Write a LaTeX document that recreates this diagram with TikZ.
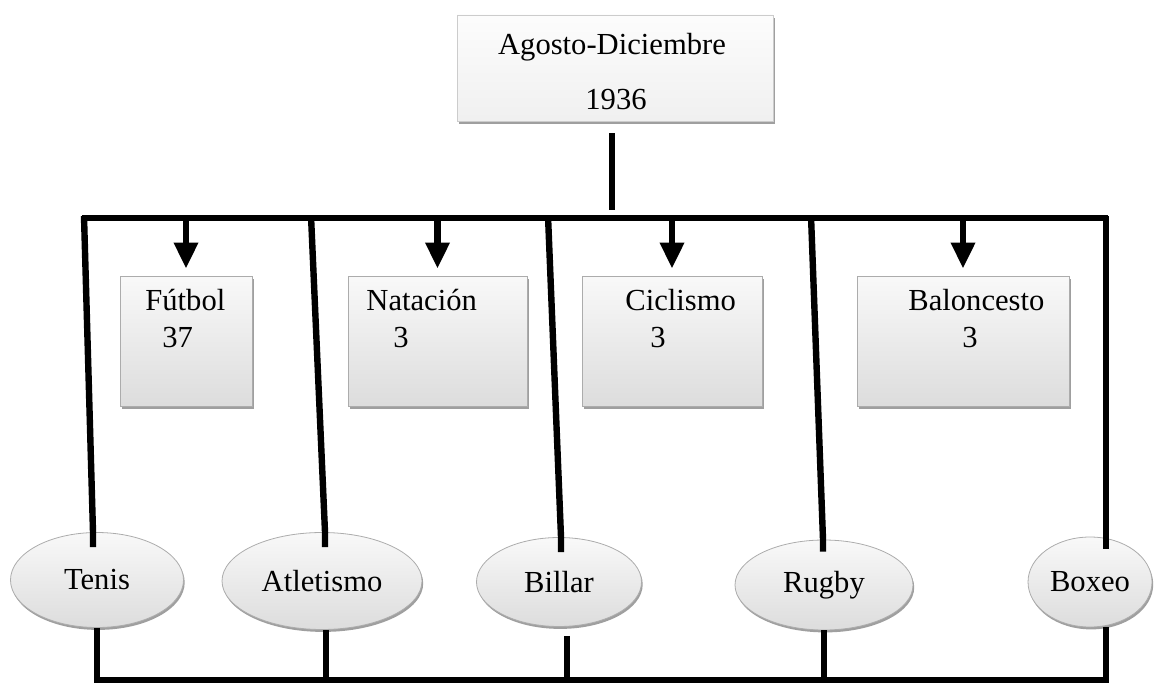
\documentclass[tikz,border=0pt]{standalone}
\usepackage{fontspec}
\setmainfont{Liberation Serif}
\usetikzlibrary{arrows.meta,shadows,shapes.geometric}
\begin{document}
\begin{tikzpicture}[x=0.5pt,y=-0.5pt,
                        font=\fontsize{15.3}{18}\selectfont,
                        caja/.style={shape=rectangle,draw=gray!65,top color=gray!5,bottom color=gray!27,
                                     drop shadow={shadow xshift=0.8pt,shadow yshift=-1.5pt,fill=gray!75,opacity=1},
                                     inner sep=0pt,minimum height=65pt},
                        ovalo/.style={shape=ellipse,draw=gray!65,top color=gray!5,bottom color=gray!27,
                                     drop shadow={shadow xshift=0.6pt,shadow yshift=-1.2pt,fill=gray!75,opacity=1},
                                     inner sep=0pt},
                        dato/.style={anchor=base west,inner sep=0pt},
                        linea/.style={line width=3.2pt},
                        flecha/.style={line width=3.2pt,-{Triangle[width=11.5pt,length=13pt]},shorten >=3.5pt}]
                        \useasboundingbox (0,0) rectangle (1154,684);
                        \node[caja,top color=gray!2,bottom color=gray!12,draw=gray!40,minimum width=158pt,minimum height=53pt] at (615,68) (titulo) {};
                        \node[anchor=base,inner sep=0pt] at (612,55) (tit1) {Agosto-Diciembre};
                        \node[anchor=base,inner sep=0pt] at (616,110) (tit2) {1936};
                        \node[caja,minimum width=66pt] at (186,341) (futbol) {};
                        \node[caja,minimum width=89.5pt] at (437.5,341) (natacion) {};
                        \node[caja,minimum width=90pt] at (672,341) (ciclismo) {};
                        \node[caja,minimum width=106pt] at (963,341) (baloncesto) {};
                        \node[dato] at (145,310) (futbolA) {Fútbol};
                        \node[dato] at (162,347) (futbolB) {37};
                        \node[dato] at (366,310) (natacionA) {Natación};
                        \node[dato] at (393,347) (natacionB) {3};
                        \node[dato] at (625,310) (ciclismoA) {Ciclismo};
                        \node[dato] at (650,347) (ciclismoB) {3};
                        \node[dato] at (908,310) (baloncestoA) {Baloncesto};
                        \node[dato] at (962,347) (baloncestoB) {3};
                        \node[ovalo,minimum width=86.5pt,minimum height=47.5pt] at (97,580) (tenis) {Tenis};
                        \node[ovalo,minimum width=100pt,minimum height=48.5pt] at (322,581) (atletismo) {Atletismo};
                        \node[ovalo,minimum width=82.5pt,minimum height=44.5pt] at (559,582) (billar) {Billar};
                        \node[ovalo,minimum width=89pt,minimum height=45pt] at (824,585) (rugby) {Rugby};
                        \node[ovalo,minimum width=62pt,minimum height=45pt] at (1090,582) (boxeo) {Boxeo};
                        \coordinate (barraI) at (82,218);
                        \coordinate (barraD) at (1108,218);
                        \coordinate (tope) at (612,210);
                        \coordinate (pie) at (93,680);
                        \draw[linea] (barraI) -- (barraD);
                        \draw[linea,shorten <=6pt] (titulo.south -| tope) -- (tope);
                        \foreach \caja in {futbol,natacion,ciclismo,baloncesto}
                            \draw[flecha] (\caja.north |- barraI) -- (\caja.north);
                        \draw[linea] (84,216) -- ([xshift=-2pt]tenis.north) -- +(0,15);
                        \draw[linea] (311,216) -- ([xshift=1.5pt]atletismo.north) -- +(0,15);
                        \draw[linea] (548,216) -- ([xshift=1pt]billar.north) -- +(0,15);
                        \draw[linea] (811,216) -- ([xshift=-0.5pt]rugby.north) -- +(0,12);
                        \draw[linea] (1106,216) -- ([xshift=8pt]boxeo.north) -- +(0,12);
                        \draw[linea] (tenis.south) -- (tenis.south |- pie) -| ([xshift=8pt]boxeo.south);
                        \draw[linea] ([xshift=2pt]atletismo.south) -- ([xshift=2pt]atletismo.south |- pie);
                        \draw[linea] (rugby.south) -- (rugby.south |- pie);
                        \draw[linea,shorten <=4.5pt] ([xshift=4pt]billar.south) -- ([xshift=4pt]billar.south |- pie);
                \end{tikzpicture}
\end{document}
